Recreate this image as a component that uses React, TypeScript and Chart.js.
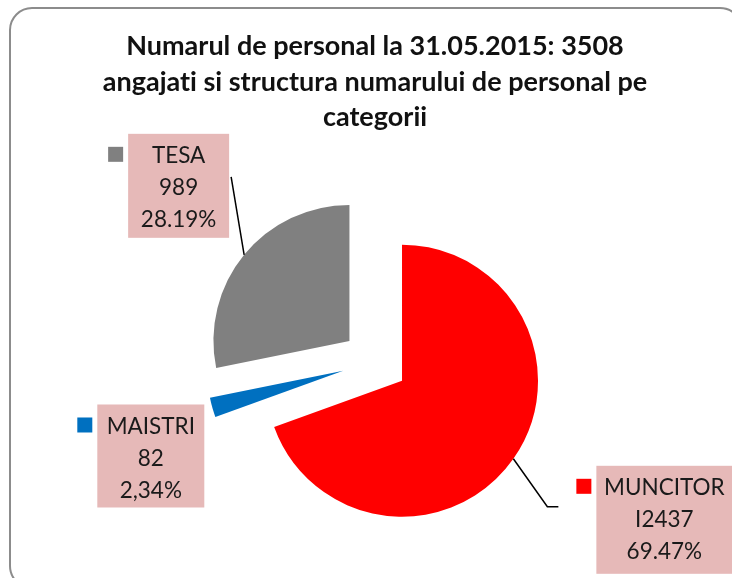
import React, { useEffect, useRef } from "react";
import { Chart, registerables } from "chart.js";

Chart.register(...registerables);

const categories = ["MUNCITOR", "MAISTRI", "TESA"];
const values = [2437, 82, 989];
const valueLabels = ["I2437", "82", "989"];
const percentLabels = ["69.47%", "2,34%", "28.19%"];
const colors = ["#FF0000", "#0070C0", "#808080"];
const titleLines = [
  "Numarul de personal la 31.05.2015: 3508",
  "angajati si structura numarului de personal pe",
  "categorii",
];

const FONT = "Lato, 'Open Sans', sans-serif";
const EXPLODE = 33;
const BOX_FILL = "#E6B9B8";

// label box placement relative to each arc's outer mid-point
const labelBoxes = [
  { dx: 83, dy: 7, w: 136, h: 108, leader: "elbow" },
  { dx: -115, dy: -3, w: 107, h: 103, leader: "none" },
  { dx: -116, dy: -121, w: 101, h: 104, leader: "straight" },
];

const explodePlugin = {
  id: "explodePie",
  beforeDatasetDraw(chart: any, args: any) {
    const meta = chart.getDatasetMeta(args.index);
    const ctx = chart.ctx;
    meta.data.forEach((arc: any) => {
      const half = (arc.startAngle + arc.endAngle) / 2;
      ctx.save();
      ctx.translate(Math.cos(half) * EXPLODE, Math.sin(half) * EXPLODE);
      arc.draw(ctx);
      ctx.restore();
    });
    return false;
  },
};

const framePlugin = {
  id: "frame",
  beforeDraw(chart: any) {
    const ctx = chart.ctx;
    try {
      (ctx as any).textRendering = "optimizeSpeed";
    } catch (e) {}
    ctx.save();
    ctx.fillStyle = "#ffffff";
    ctx.fillRect(0, 0, chart.width, chart.height);
    ctx.strokeStyle = "#8c8c8c";
    ctx.lineWidth = 2;
    const x = 10, y = 8, w = 732, h = 580, r = 22;
    ctx.beginPath();
    ctx.moveTo(x + r, y);
    ctx.lineTo(x + w - r, y);
    ctx.arcTo(x + w, y, x + w, y + r, r);
    ctx.lineTo(x + w, y + h - r);
    ctx.arcTo(x + w, y + h, x + w - r, y + h, r);
    ctx.lineTo(x + r, y + h);
    ctx.arcTo(x, y + h, x, y + h - r, r);
    ctx.lineTo(x, y + r);
    ctx.arcTo(x, y, x + r, y, r);
    ctx.closePath();
    ctx.stroke();
    ctx.restore();
  },
};

const labelPlugin = {
  id: "pieLabels",
  afterDatasetsDraw(chart: any) {
    const meta = chart.getDatasetMeta(0);
    const ctx = chart.ctx;
    ctx.save();
    meta.data.forEach((arc: any, i: number) => {
      const half = (arc.startAngle + arc.endAngle) / 2;
      const cx = arc.x + Math.cos(half) * EXPLODE;
      const cy = arc.y + Math.sin(half) * EXPLODE;
      const px = cx + Math.cos(half) * arc.outerRadius;
      const py = cy + Math.sin(half) * arc.outerRadius;
      const b = labelBoxes[i];
      const bx = px + b.dx;
      const by = py + b.dy;

      // leader line
      ctx.strokeStyle = "#000000";
      ctx.lineWidth = 1.5;
      if (b.leader === "straight") {
        ctx.beginPath();
        ctx.moveTo(px, py);
        ctx.lineTo(bx + b.w + 2, by + 43);
        ctx.stroke();
      } else if (b.leader === "elbow") {
        ctx.beginPath();
        ctx.moveTo(px, py);
        ctx.lineTo(px + 34, by + 41);
        ctx.lineTo(px + 45, by + 41);
        ctx.stroke();
      }

      // box
      ctx.fillStyle = BOX_FILL;
      ctx.fillRect(bx, by, b.w, b.h);

      // legend key
      ctx.fillStyle = colors[i];
      ctx.fillRect(bx - 20, by + 13, 15, 15);

      // text
      ctx.fillStyle = "#1a1a1a";
      ctx.font = `22.5px ${FONT}`;
      ctx.textAlign = "center";
      ctx.textBaseline = "middle";
      const tx = bx + b.w / 2;
      ctx.fillText(categories[i], tx, by + 22);
      ctx.fillText(valueLabels[i], tx, by + 54);
      ctx.fillText(percentLabels[i], tx, by + 86);
    });
    ctx.restore();
  },
};

export default function App() {
  const canvasRef = useRef<HTMLCanvasElement | null>(null);

  useEffect(() => {
    if (!canvasRef.current) return;
    const chart = new Chart(canvasRef.current, {
      type: "pie",
      data: {
        labels: categories,
        datasets: [
          {
            data: values,
            backgroundColor: colors,
            borderWidth: 0,
          },
        ],
      },
      options: {
        animation: false,
        responsive: false,
        maintainAspectRatio: false,
        radius: 136,
        layout: { padding: { top: 10, bottom: 0, left: 24, right: 6 } },
        events: [],
        plugins: {
          legend: { display: false },
          tooltip: { enabled: false },
          title: {
            display: true,
            text: titleLines,
            color: "#111111",
            font: { family: FONT, size: 27, weight: "bold", lineHeight: 1.315 },
            padding: { top: 19, bottom: 10 },
          },
        },
      } as any,
      plugins: [framePlugin, explodePlugin, labelPlugin],
    });
    return () => chart.destroy();
  }, []);

  return (
    <div style={{ position: "fixed", left: 0, top: 0, width: 732, height: 578 }}>
      <canvas ref={canvasRef} width={732} height={578} style={{ display: "block" }} />
    </div>
  );
}
